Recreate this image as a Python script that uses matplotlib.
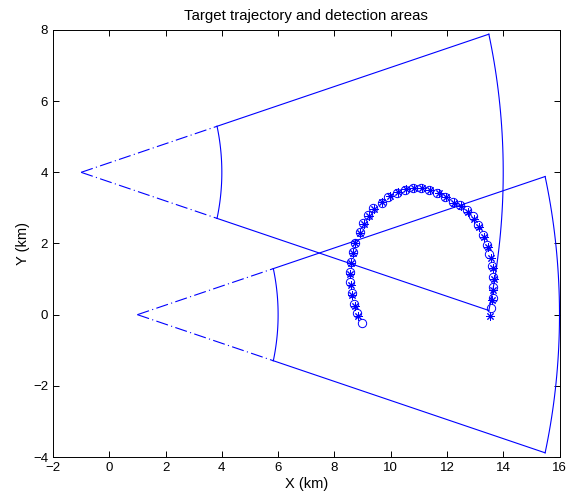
import numpy as np
import matplotlib
matplotlib.use("Agg")
import matplotlib.pyplot as plt

plt.rcParams["font.family"] = ["Liberation Sans", "DejaVu Sans"]

# detection areas (sensor apex, pointing along +x)
apex_x = [-1.0, 1.0]
apex_y = [4.0, 0.0]
half_angle_deg = 15.0
r_inner = 5.0
r_outer = 15.0

# target trajectory, circles
traj_x = [8.97, 8.79, 8.70, 8.62, 8.55, 8.55, 8.58, 8.65, 8.73, 8.91, 9.03, 9.20,
          9.38, 9.68, 9.92, 10.21, 10.51, 10.78, 11.07, 11.37, 11.66, 11.93, 12.23,
          12.46, 12.70, 12.91, 13.11, 13.29, 13.41, 13.51, 13.59, 13.65, 13.65,
          13.63, 13.56]
traj_y = [-0.24, 0.04, 0.30, 0.60, 0.93, 1.21, 1.49, 1.77, 2.02, 2.33, 2.58, 2.80,
          2.99, 3.15, 3.31, 3.43, 3.50, 3.55, 3.55, 3.50, 3.43, 3.32, 3.17,
          3.08, 2.94, 2.77, 2.52, 2.24, 1.96, 1.70, 1.37, 1.07, 0.77,
          0.46, 0.18]

# estimated positions, asterisks
est_x = [8.85, 8.72, 8.62, 8.58, 8.56, 8.60, 8.67, 8.75, 8.92, 9.05, 9.22, 9.42,
         9.70, 9.97, 10.25, 10.55, 10.83, 11.10, 11.40, 11.70, 11.97, 12.25, 12.50,
         12.75, 12.95, 13.15, 13.32, 13.45, 13.55, 13.62, 13.66, 13.64, 13.61, 13.52]
est_y = [-0.05, 0.25, 0.55, 0.83, 1.13, 1.45, 1.72, 2.00, 2.30, 2.55, 2.78, 2.98,
         3.18, 3.33, 3.45, 3.52, 3.56, 3.55, 3.50, 3.42, 3.30, 3.15, 3.05,
         2.88, 2.70, 2.45, 2.18, 1.90, 1.60, 1.30, 1.00, 0.70, 0.42, -0.05]

x_ticks = list(range(-2, 17, 2))
y_ticks = list(range(-4, 9, 2))

fig = plt.figure(figsize=(5.71, 4.95), dpi=100)
ax = fig.add_axes([53 / 571, 1 - 457 / 495, (559.5 - 53) / 571, (457 - 30) / 495])

lw = 0.8
dd = (11, 3, 1, 3)
a = np.deg2rad(half_angle_deg)
th = np.linspace(-a, a, 40)
for x0, y0 in zip(apex_x, apex_y):
    for s in (-a, a):
        c, sn = np.cos(s), np.sin(s)
        ax.plot([x0, x0 + r_inner * c], [y0, y0 + r_inner * sn], color="b", lw=lw,
                dashes=dd)
        ax.plot([x0 + r_inner * c, x0 + r_outer * c],
                [y0 + r_inner * sn, y0 + r_outer * sn], color="b", lw=lw)
    for r in (r_inner, r_outer):
        ax.plot(x0 + r * np.cos(th), y0 + r * np.sin(th), color="b", lw=lw)

ax.plot(traj_x, traj_y, "o", color="b", mfc="none", ms=6, mew=0.7)
ax.plot(est_x, est_y, marker=(8, 2, 0), ls="none", color="b", ms=6, mew=0.7)

ax.set_xlim(-2, 16)
ax.set_ylim(-4, 8)
ax.set_xticks(x_ticks)
ax.set_yticks(y_ticks)
ax.tick_params(direction="in", top=True, right=True, length=4, labelsize=9.5,
               width=0.7)
for sp in ax.spines.values():
    sp.set_linewidth(0.7)
ax.set_title("Target trajectory and detection areas", fontsize=10.8, pad=7)
ax.set_xlabel("X (km)", fontsize=10.5, labelpad=2)
ax.set_ylabel("Y (km)", fontsize=10.5, labelpad=2)

fig.savefig("out.png", dpi=100)
